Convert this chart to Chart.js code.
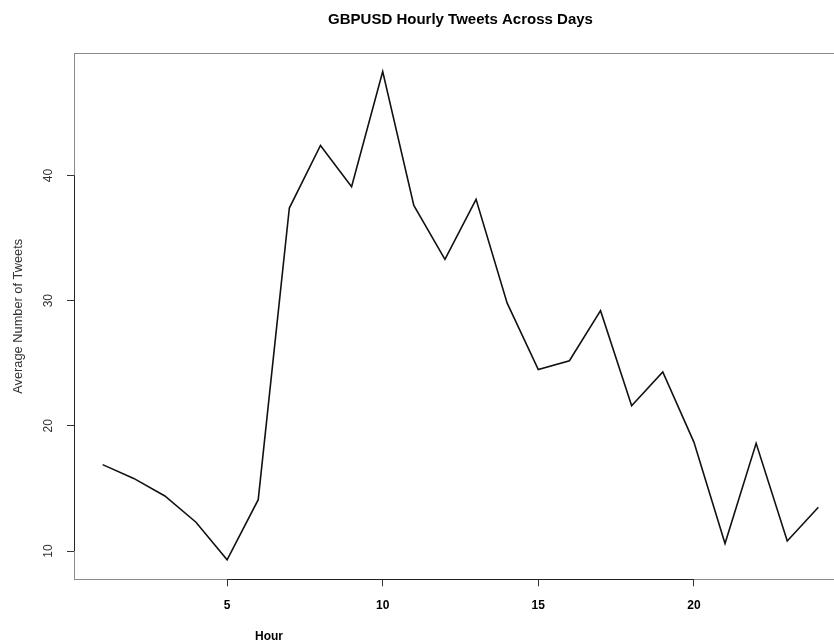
<!DOCTYPE html>
<html>
<head>
<meta charset="utf-8">
<script src="https://cdn.jsdelivr.net/npm/chart.js@4.4.1/dist/chart.umd.min.js"></script>
<style>
  html, body { margin: 0; padding: 0; overflow: hidden; background: #fff; }
  #wrap { width: 834px; height: 644px; overflow: hidden; }
</style>
</head>
<body>
<div id="wrap"><canvas id="hourly" width="847" height="644"></canvas></div>
<script>
// hour of day and average tweet count
const hours = [1, 2, 3, 4, 5, 6, 7, 8, 9, 10, 11, 12, 13, 14, 15, 16, 17, 18, 19, 20, 21, 22, 23, 24];
const avgTweets = [16.9, 15.8, 14.4, 12.3, 9.3, 14.1, 37.4, 42.4, 39.1, 48.3, 37.6, 33.3,
                   38.1, 29.8, 24.5, 25.2, 29.2, 21.6, 24.3, 18.7, 10.6, 18.6, 10.8, 13.5];
const xTicks = [5, 10, 15, 20];
const yTicks = [10, 20, 30, 40];

Chart.defaults.font.family = "'Liberation Sans', Arial, sans-serif";
Chart.defaults.color = '#222';

// R style box around the plot, darker axis between first and last tick
const rBox = {
  id: 'rBox',
  afterDraw(chart) {
    const { ctx, chartArea: a, scales: { x, y } } = chart;
    const l = Math.round(a.left) + 0.5, t = Math.round(a.top) + 0.5;
    const b = Math.round(a.bottom) + 0.5, r = Math.round(a.right) + 0.5;
    ctx.save();
    ctx.lineWidth = 1;
    ctx.strokeStyle = '#8a8a8a';
    ctx.strokeRect(l, t, r - l, b - t);
    ctx.strokeStyle = '#222';
    ctx.beginPath();
    ctx.moveTo(l, y.getPixelForValue(yTicks[0]));
    ctx.lineTo(l, y.getPixelForValue(yTicks[yTicks.length - 1]));
    ctx.moveTo(x.getPixelForValue(xTicks[0]), b);
    ctx.lineTo(x.getPixelForValue(xTicks[xTicks.length - 1]), b);
    ctx.stroke();
    // x axis label sits left of centre in the original
    ctx.fillStyle = '#000';
    ctx.font = "bold 12px 'Liberation Sans', Arial, sans-serif";
    ctx.textBaseline = 'middle';
    ctx.textAlign = 'left';
    ctx.fillText('Hour', a.left + 181, a.bottom + 57);
    ctx.restore();
  }
};

new Chart(document.getElementById('hourly'), {
  type: 'line',
  data: {
    datasets: [{
      label: 'Average Number of Tweets',
      data: hours.map((h, i) => ({ x: h, y: avgTweets[i] })),
      borderColor: '#111',
      borderWidth: 1.6,
      pointRadius: 0,
      tension: 0,
      fill: false
    }]
  },
  options: {
    responsive: false,
    animation: false,
    layout: { padding: 0 },
    plugins: {
      legend: { display: false },
      tooltip: { enabled: false },
      title: {
        display: true,
        fullSize: false,
        text: 'GBPUSD Hourly Tweets Across Days',
        color: '#000',
        font: { size: 15, weight: 'bold' },
        padding: { top: 11, bottom: 24.3 }
      }
    },
    scales: {
      x: {
        type: 'linear',
        min: 0.08,
        max: 24.92,
        afterBuildTicks: (s) => { s.ticks = xTicks.map(v => ({ value: v })); },
        afterFit: (s) => { s.height = 64.7; },
        border: { display: false },
        grid: { drawOnChartArea: false, drawTicks: true, tickLength: 7, tickColor: '#333' },
        ticks: {
          color: '#000',
          font: { size: 12, weight: 'bold' },
          padding: 12,
          maxRotation: 0,
          autoSkip: false
        }
      },
      y: {
        type: 'linear',
        min: 7.74,
        max: 49.76,
        afterBuildTicks: (s) => { s.ticks = yTicks.map(v => ({ value: v })); },
        afterFit: (s) => { s.width = 74; },
        border: { display: false },
        grid: { drawOnChartArea: false, drawTicks: true, tickLength: 7, tickColor: '#333' },
        ticks: {
          color: '#333',
          font: { size: 12 },
          minRotation: 90,
          maxRotation: 90,
          crossAlign: 'center',
          padding: 11.5,
          autoSkip: false
        },
        title: {
          display: true,
          text: 'Average Number of Tweets',
          color: '#333',
          font: { size: 12.8 },
          padding: { top: 10.3, bottom: 0 }
        }
      }
    }
  },
  plugins: [rBox]
});
</script>
</body>
</html>
